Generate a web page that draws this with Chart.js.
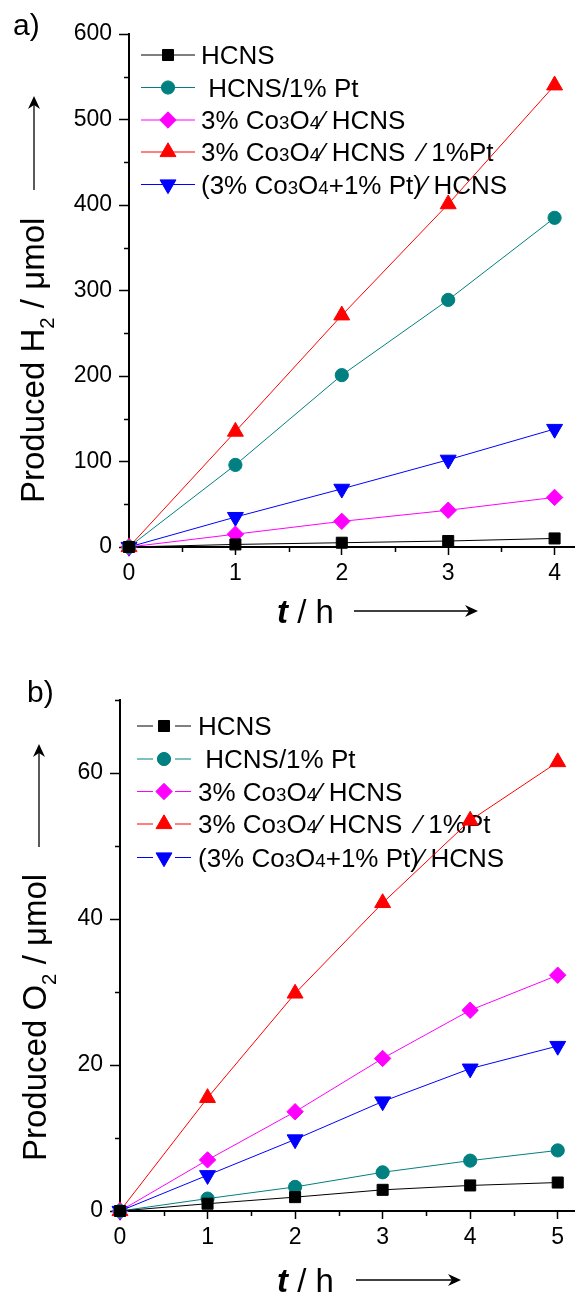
<!DOCTYPE html>
<html>
<head>
<meta charset="utf-8">
<script src="https://cdn.jsdelivr.net/npm/chart.js@4.4.0/dist/chart.umd.min.js"></script>
<style>
  html, body { margin: 0; padding: 0; background: #fff; }
  #page { position: relative; width: 585px; height: 1295px; overflow: hidden; }
  #chartA, #chartB { position: absolute; left: 0; }
  #chartA { top: 0; }
  #chartB { top: 640px; }
</style>
</head>
<body>
<div id="page">
  <canvas id="chartA" width="585" height="640"></canvas>
  <canvas id="chartB" width="585" height="655"></canvas>
</div>
<script>
// irradiation time, h
const hoursH2 = [0, 1, 2, 3, 4];
const hoursO2 = [0, 1, 2, 3, 4, 5];

// legend text; "_x" marks a small digit
const legendLabels = [
  'HCNS',
  ' HCNS/1% Pt',
  '3% Co_3O_4\u2044 HCNS',
  '3% Co_3O_4\u2044 HCNS  \u2044 1%Pt',
  '(3% Co_3O_4+1% Pt)\u2044 HCNS'
];

// produced H2, umol
const h2Hcns     = [0, 3, 5, 7, 10];
const h2HcnsPt   = [0, 96, 201, 289, 385];
const h2CoHcns   = [0, 15, 30, 43, 58];
const h2CoHcnsPt = [0, 135, 271, 401, 540];
const h2CoPtHcns = [0, 35, 68, 102, 138];

// produced O2, umol
const o2Hcns     = [0, 1.0, 1.9, 2.9, 3.5, 3.9];
const o2HcnsPt   = [0, 1.7, 3.3, 5.3, 6.9, 8.3];
const o2CoHcns   = [0, 7.0, 13.6, 20.9, 27.5, 32.3];
const o2CoHcnsPt = [0, 15.5, 29.8, 42.2, 53.5, 61.5];
const o2CoPtHcns = [0, 4.9, 9.8, 15.0, 19.5, 22.6];

// axis ticks
const h2TimeTicks = [0, 1, 2, 3, 4];
const h2AmountTicks = [0, 100, 200, 300, 400, 500, 600];
const o2TimeTicks = [0, 1, 2, 3, 4, 5];
const o2AmountTicks = [0, 20, 40, 60];

const FONT = '"Liberation Sans", Arial, Helvetica, sans-serif';

const looks = [
  { color: '#000000', pointStyle: 'rect',     radius: 7.8, rotation: 0 },
  { color: '#008080', pointStyle: 'circle',   radius: 6.6, rotation: 0 },
  { color: '#ff00ff', pointStyle: 'rectRot',  radius: 8.2, rotation: 0 },
  { color: '#ff0000', pointStyle: 'triangle', radius: 9.2, rotation: 0 },
  { color: '#0000ff', pointStyle: 'triangle', radius: 9.2, rotation: 180 }
];

// split "Co_3O_4" into normal / small runs
function toRuns(text) {
  const runs = [];
  let buf = '';
  for (let i = 0; i < text.length; i++) {
    if (text[i] === '_' && i + 1 < text.length) {
      if (buf) runs.push({ t: buf, small: false });
      buf = '';
      runs.push({ t: text[i + 1], small: true });
      i++;
    } else buf += text[i];
  }
  if (buf) runs.push({ t: buf, small: false });
  return runs;
}

function drawRuns(ctx, runs, x, y, size, smallScale, subDrop) {
  runs.forEach(r => {
    const s = r.small ? size * smallScale : size;
    ctx.font = s + 'px ' + FONT;
    ctx.fillText(r.t, x, y + (r.small ? subDrop : 0));
    x += ctx.measureText(r.t).width;
  });
  return x;
}

function marker(ctx, look, x, y) {
  ctx.save();
  ctx.fillStyle = look.color;
  ctx.strokeStyle = look.color;
  ctx.lineWidth = 1;
  Chart.helpers.drawPoint(ctx, {
    pointStyle: look.pointStyle, radius: look.radius, rotation: look.rotation, borderWidth: 1
  }, x, y);
  ctx.restore();
}

function arrow(ctx, x0, y0, x1, y1) {
  const a = Math.atan2(y1 - y0, x1 - x0);
  ctx.save();
  ctx.strokeStyle = '#000';
  ctx.fillStyle = '#000';
  ctx.lineWidth = 1.3;
  ctx.beginPath();
  ctx.moveTo(x0, y0);
  ctx.lineTo(x1 - 6 * Math.cos(a), y1 - 6 * Math.sin(a));
  ctx.stroke();
  ctx.translate(x1, y1);
  ctx.rotate(a);
  ctx.beginPath();
  ctx.moveTo(0, 0);
  ctx.lineTo(-13, -6);
  ctx.lineTo(-9, 0);
  ctx.lineTo(-13, 6);
  ctx.closePath();
  ctx.fill();
  ctx.restore();
}

// midpoints between major ticks (plus one past the last if it fits)
function minorValues(major, max) {
  const out = [];
  for (let i = 0; i < major.length - 1; i++) out.push((major[i] + major[i + 1]) / 2);
  const step = major[1] - major[0];
  const extra = major[major.length - 1] + step / 2;
  if (extra <= max + 1e-9) out.push(extra);
  return out;
}

const decorations = {
  id: 'decorations',
  beforeDatasetsDraw(chart, args, o) {
    const ctx = chart.ctx;
    const lg = o.legend;
    ctx.save();
    legendLabels.forEach((label, i) => {
      const y = lg.ys[i];
      const look = looks[i];
      ctx.strokeStyle = look.color;
      ctx.lineWidth = 1;
      ctx.beginPath();
      if (lg.gap) {
        ctx.moveTo(lg.x0, y); ctx.lineTo(lg.mx - lg.gap, y);
        ctx.moveTo(lg.mx + lg.gap, y); ctx.lineTo(lg.x1, y);
      } else {
        ctx.moveTo(lg.x0, y); ctx.lineTo(lg.x1, y);
      }
      ctx.stroke();
      marker(ctx, look, lg.mx, y);
      ctx.fillStyle = '#000';
      ctx.textBaseline = 'alphabetic';
      ctx.textAlign = 'left';
      drawRuns(ctx, toRuns(label), lg.tx, y + lg.size * 0.36, lg.size, 0.72, 0);
    });
    ctx.restore();
  },
  afterDraw(chart, args, o) {
    const ctx = chart.ctx;
    const { x, y } = chart.scales;
    const area = chart.chartArea;
    ctx.save();

    // minor ticks
    ctx.strokeStyle = '#000';
    ctx.lineWidth = 1.5;
    ctx.beginPath();
    o.xMinor.forEach(v => {
      const px = Math.round(x.getPixelForValue(v)) + 0.5;
      ctx.moveTo(px, area.bottom); ctx.lineTo(px, area.bottom + 5);
    });
    o.yMinor.forEach(v => {
      const py = Math.round(y.getPixelForValue(v)) + 0.5;
      ctx.moveTo(area.left, py); ctx.lineTo(area.left - 5, py);
    });
    ctx.stroke();

    ctx.fillStyle = '#000';
    ctx.textBaseline = 'alphabetic';
    ctx.textAlign = 'left';

    // panel tag
    ctx.font = o.tag.size + 'px ' + FONT;
    ctx.fillText(o.tag.text, o.tag.x, o.tag.y);

    // x title: t / h
    const xt = o.xTitle;
    ctx.font = 'italic bold ' + xt.size + 'px ' + FONT;
    ctx.fillText('t', xt.x, xt.y);
    const cx = xt.x + ctx.measureText('t').width;
    ctx.font = xt.size + 'px ' + FONT;
    ctx.fillText(' / h', cx, xt.y);
    arrow(ctx, xt.arrow.x0, xt.arrow.y, xt.arrow.x1, xt.arrow.y);

    // y title, reading upwards
    const yt = o.yTitle;
    ctx.save();
    ctx.translate(yt.x, yt.y);
    ctx.rotate(-Math.PI / 2);
    drawRuns(ctx, [{ t: yt.text[0], small: false }, { t: yt.text[1], small: true }, { t: yt.text[2], small: false }],
      0, 0, yt.size, 0.62, yt.size * 0.3);
    ctx.restore();
    arrow(ctx, yt.arrow.x, yt.arrow.y0, yt.arrow.x, yt.arrow.y1);

    ctx.restore();
  }
};

function buildChart(id, c) {
  const series = c.series.map((vals, i) => ({
    label: legendLabels[i].replace(/_/g, ''),
    data: vals.map((v, j) => ({ x: c.hours[j], y: v })),
    borderColor: looks[i].color,
    backgroundColor: looks[i].color,
    pointBackgroundColor: looks[i].color,
    pointBorderColor: looks[i].color,
    borderWidth: 1,
    pointStyle: looks[i].pointStyle,
    pointRadius: looks[i].radius,
    pointRotation: looks[i].rotation,
    pointBorderWidth: 1,
    tension: 0,
    clip: false
  }));

  const tickFont = { family: FONT, size: 23 };

  return new Chart(document.getElementById(id), {
    type: 'line',
    data: { datasets: series },
    plugins: [decorations],
    options: {
      responsive: false,
      animation: false,
      events: [],
      layout: { padding: { top: c.padTop, left: 0, right: 0, bottom: 0 } },
      plugins: {
        legend: { display: false },
        tooltip: { enabled: false },
        decorations: {
          legend: c.legend,
          tag: c.tag,
          xTitle: c.xTitle,
          yTitle: c.yTitle,
          xMinor: minorValues(c.xTicks, c.xMax),
          yMinor: minorValues(c.yTicks, c.yMax)
        }
      },
      scales: {
        x: {
          type: 'linear',
          min: 0,
          max: c.xMax,
          afterFit: s => { s.height = c.xAxisH; },
          afterBuildTicks: s => { s.ticks = c.xTicks.map(v => ({ value: v })); },
          grid: { drawOnChartArea: false, drawTicks: true, tickLength: 8, tickWidth: 1.5, tickColor: '#000' },
          border: { display: true, color: '#000', width: 2 },
          ticks: { font: tickFont, color: '#000', padding: 5, maxRotation: 0, autoSkip: false }
        },
        y: {
          type: 'linear',
          min: 0,
          max: c.yMax,
          afterFit: s => { s.width = c.yAxisW; },
          afterBuildTicks: s => { s.ticks = c.yTicks.map(v => ({ value: v })); },
          grid: { drawOnChartArea: false, drawTicks: true, tickLength: 10, tickWidth: 1.5, tickColor: '#000' },
          border: { display: true, color: '#000', width: 2 },
          ticks: { font: tickFont, color: '#000', padding: 7, autoSkip: false }
        }
      }
    }
  });
}

// a) hydrogen
buildChart('chartA', {
  hours: hoursH2,
  series: [h2Hcns, h2HcnsPt, h2CoHcns, h2CoHcnsPt, h2CoPtHcns],
  xTicks: h2TimeTicks, yTicks: h2AmountTicks,
  xMax: 4.19, yMax: 600,
  padTop: 34, yAxisW: 129, xAxisH: 93,
  legend: { x0: 141, x1: 195, mx: 168, tx: 201, ys: [55, 87.5, 120, 152, 184.5], gap: 0, size: 26 },
  tag: { text: 'a)', x: 13, y: 35, size: 30 },
  xTitle: { x: 277, y: 623, size: 33, arrow: { y: 611, x0: 354, x1: 478 } },
  yTitle: { text: ['Produced H', '2', ' / \u03bcmol'], x: 44, y: 503, size: 33, arrow: { x: 34, y0: 190, y1: 96 } }
});

// b) oxygen
buildChart('chartB', {
  hours: hoursO2,
  series: [o2Hcns, o2HcnsPt, o2CoHcns, o2CoHcnsPt, o2CoPtHcns],
  xTicks: o2TimeTicks, yTicks: o2AmountTicks,
  xMax: 5.195, yMax: 70,
  padTop: 60, yAxisW: 120, xAxisH: 84,
  legend: { x0: 137, x1: 191, mx: 164, tx: 198, ys: [86, 119, 151.5, 184, 217.5], gap: 11, size: 26 },
  tag: { text: 'b)', x: 27, y: 62, size: 30 },
  xTitle: { x: 277, y: 652, size: 33, arrow: { y: 640, x0: 356, x1: 461 } },
  yTitle: { text: ['Produced O', '2', ' / \u03bcmol'], x: 46, y: 521, size: 33, arrow: { x: 39, y0: 207, y1: 104 } }
});
</script>
</body>
</html>
